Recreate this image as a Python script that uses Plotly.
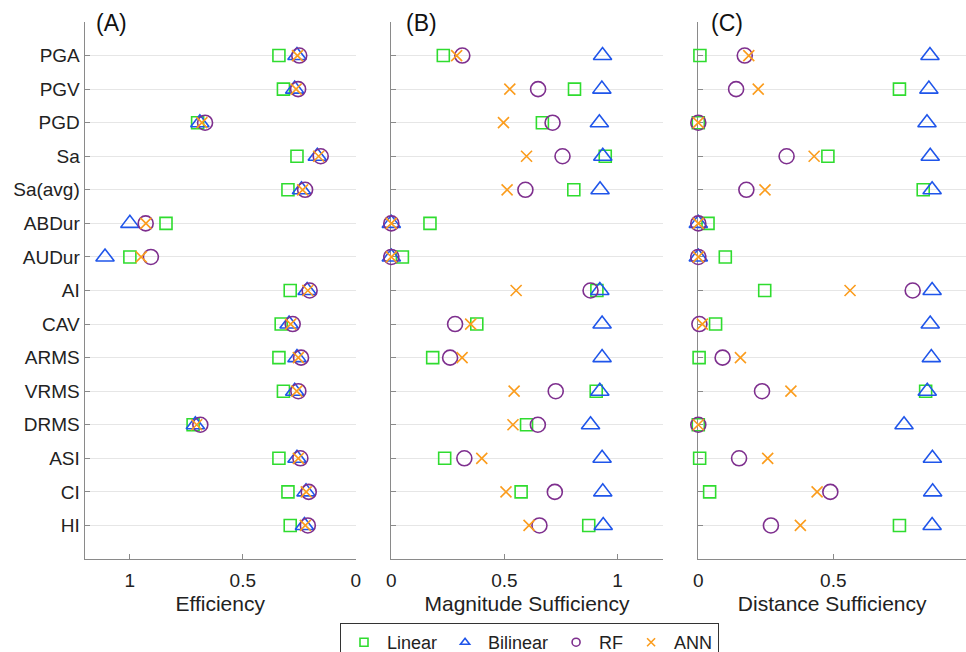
import plotly.graph_objects as go

# Intensity measures (top to bottom)
measures = ["PGA", "PGV", "PGD", "Sa", "Sa(avg)", "ABDur", "AUDur", "AI",
            "CAV", "ARMS", "VRMS", "DRMS", "ASI", "CI", "HI"]

# (A) Efficiency
eff_linear = [0.34, 0.32, 0.70, 0.26, 0.30, 0.84, 1.00, 0.29, 0.33, 0.34, 0.32, 0.72, 0.34, 0.30, 0.29]
eff_bilinear = [0.26, 0.27, 0.69, 0.17, 0.24, 1.00, 1.11, 0.215, 0.295, 0.26, 0.27, 0.71, 0.26, 0.22, 0.227]
eff_rf = [0.25, 0.255, 0.667, 0.155, 0.224, 0.93, 0.907, 0.204, 0.279, 0.242, 0.254, 0.688, 0.245, 0.208, 0.212]
eff_ann = [0.258, 0.264, 0.681, 0.164, 0.235, 0.929, 0.95, 0.212, 0.288, 0.254, 0.261, 0.704, 0.254, 0.219, 0.223]

# (B) Magnitude sufficiency
mag_linear = [0.23, 0.81, 0.668, 0.946, 0.807, 0.171, 0.049, 0.909, 0.378, 0.183, 0.906, 0.598, 0.236, 0.574, 0.873]
mag_bilinear = [0.934, 0.931, 0.92, 0.935, 0.923, 0, 0, 0.922, 0.932, 0.932, 0.922, 0.881, 0.932, 0.935, 0.937]
mag_rf = [0.314, 0.649, 0.713, 0.757, 0.593, 0, 0, 0.881, 0.282, 0.26, 0.727, 0.648, 0.323, 0.723, 0.655]
mag_ann = [0.289, 0.524, 0.496, 0.598, 0.512, 0, 0, 0.552, 0.351, 0.313, 0.543, 0.538, 0.40, 0.507, 0.609]

# (C) Distance sufficiency
dist_linear = [0.006, 0.745, 0, 0.48, 0.833, 0.036, 0.10, 0.246, 0.064, 0.003, 0.842, 0, 0.005, 0.042, 0.745]
dist_bilinear = [0.858, 0.854, 0.847, 0.859, 0.866, 0, 0, 0.866, 0.859, 0.863, 0.848, 0.762, 0.867, 0.868, 0.866]
dist_rf = [0.172, 0.14, 0, 0.327, 0.178, 0, 0, 0.794, 0.004, 0.09, 0.236, 0, 0.151, 0.489, 0.269]
dist_ann = [0.187, 0.222, 0, 0.429, 0.247, 0, 0, 0.562, 0.015, 0.156, 0.343, 0, 0.257, 0.44, 0.378]

model_names = ["Linear", "Bilinear", "RF", "ANN"]
x_ticks = [0, 0.5, 1]
x_ticktext = ["0", "0.5", "1"]

W, H = 966, 652
FONT = "Liberation Sans, Arial, Helvetica, sans-serif"

styles = {
    "Linear": dict(symbol="square-open", color="#2fdc2f", size=12),
    "Bilinear": dict(symbol="triangle-up-open", color="#1f55ea", size=16),
    "RF": dict(symbol="circle-open", color="#7e2f8e", size=15),
    "ANN": dict(symbol="x-thin-open", color="#fb9c1c", size=11),
}

rows = list(range(1, len(measures) + 1))

panels = [
    ("x", "y", [eff_linear, eff_bilinear, eff_rf, eff_ann]),
    ("x2", "y2", [mag_linear, mag_bilinear, mag_rf, mag_ann]),
    ("x3", "y3", [dist_linear, dist_bilinear, dist_rf, dist_ann]),
]

fig = go.Figure()
for xa, ya, series in panels:
    for name, vals in zip(model_names, series):
        st = styles[name]
        fig.add_trace(go.Scatter(
            x=vals, y=rows, mode="markers", name=name, showlegend=False,
            xaxis=xa, yaxis=ya, cliponaxis=False,
            marker=dict(symbol=st["symbol"], size=st["size"], color=st["color"],
                        line=dict(color=st["color"], width=1.6)),
        ))

# legend entries with small symbols
for name in model_names:
    st = styles[name]
    fig.add_trace(go.Scatter(
        x=[None], y=[None], mode="markers", name=name, showlegend=True,
        xaxis="x2", yaxis="y2",
        marker=dict(symbol=st["symbol"], size=8, color=st["color"],
                    line=dict(color=st["color"], width=1.6)),
    ))

def px_x(p):
    return p / W

def px_y(p):
    return 1 - p / H

y_dom = [px_y(559), px_y(22)]
axis_common = dict(
    showline=True, linecolor="#8a8a8a", linewidth=1.3,
    ticks="inside", ticklen=5, tickwidth=1, tickcolor="#8a8a8a",
    zeroline=False, showgrid=False, layer="below traces",
    tickfont=dict(family=FONT, size=19, color="#222222"),
    title_font=dict(family=FONT, size=21, color="#222222"),
    tickvals=x_ticks, ticktext=x_ticktext, ticklabelstandoff=4,
)
y_common = dict(
    range=[16, 0], tickvals=rows, ticktext=measures, domain=y_dom,
    showline=True, linecolor="#8a8a8a", linewidth=1.3,
    ticks="inside", ticklen=5, tickwidth=1, tickcolor="#8a8a8a",
    showgrid=True, gridcolor="#e6e6e6", gridwidth=1.2,
    zeroline=False, layer="below traces",
    tickfont=dict(family=FONT, size=19, color="#222222"),
)

c_right = (W - 698.3) / 270.0

fig.update_layout(
    width=W, height=H,
    margin=dict(l=0, r=0, t=0, b=0, autoexpand=False),
    paper_bgcolor="white", plot_bgcolor="white",
    font=dict(family=FONT, color="#222222"),
    xaxis=dict(axis_common, domain=[px_x(84.7), px_x(355.7)], range=[1.2, 0],
               anchor="y", title=dict(text="Efficiency", standoff=6)),
    xaxis2=dict(axis_common, domain=[px_x(391.3), px_x(662.7)], range=[0, 1.2],
                anchor="y2", title=dict(text="Magnitude Sufficiency", standoff=6)),
    xaxis3=dict(axis_common, domain=[px_x(698.3), 1.0], range=[0, c_right],
                anchor="y3", title=dict(text="Distance Sufficiency", standoff=6)),
    yaxis=dict(y_common, anchor="x", showticklabels=True),
    yaxis2=dict(y_common, anchor="x2", showticklabels=False),
    yaxis3=dict(y_common, anchor="x3", showticklabels=False),
    legend=dict(
        orientation="h", x=px_x(340), y=px_y(623), xanchor="left", yanchor="top",
        bordercolor="#333333", borderwidth=1, bgcolor="white",
        font=dict(family=FONT, size=18, color="#222222"),
        itemsizing="trace", itemwidth=36,
    ),
    showlegend=True,
)

for label, xpos in [("(A)", 94), ("(B)", 404), ("(C)", 709)]:
    fig.add_annotation(
        text=label, xref="paper", yref="paper", x=px_x(xpos), y=px_y(8),
        xanchor="left", yanchor="top", showarrow=False,
        font=dict(family=FONT, size=23, color="#111111"),
    )

fig.write_html("out.html")
